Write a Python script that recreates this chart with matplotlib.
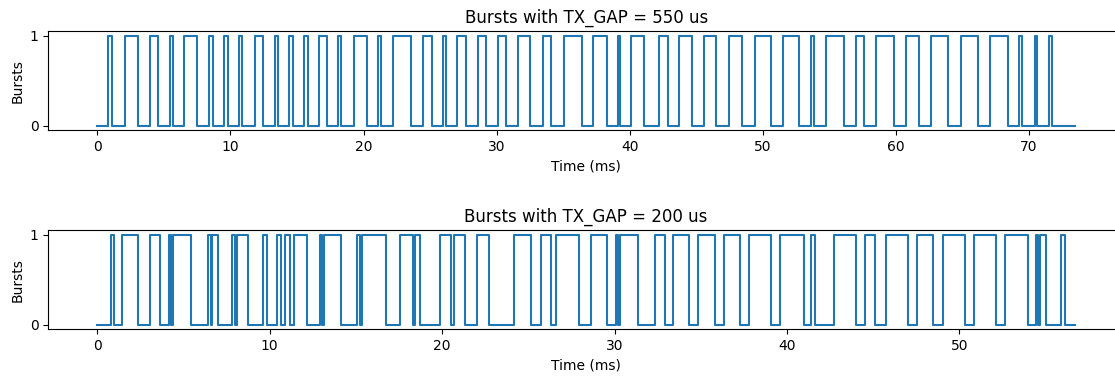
import numpy as np
import matplotlib
matplotlib.use("Agg")
import matplotlib.pyplot as plt

# Burst edges (ms)
gap550_rise = [0.83, 2.08, 3.95, 5.45, 6.50, 8.40, 9.53, 10.63, 11.83, 13.33, 14.40, 15.53,
               16.63, 18.08, 19.25, 21.08, 22.20, 24.45, 25.95, 27.03, 28.58, 30.08, 31.58,
               33.45, 35.08, 37.27, 39.14, 40.10, 42.22, 43.73, 45.58, 47.48, 49.41, 51.49,
               53.60, 54.75, 57.00, 58.50, 60.76, 62.61, 64.87, 67.07, 69.27, 70.45, 71.52]
gap550_fall = [1.10, 3.08, 4.58, 5.70, 7.50, 8.70, 9.83, 10.90, 12.45, 13.58, 14.70, 15.83,
               17.28, 18.33, 20.28, 21.33, 23.58, 25.13, 26.20, 27.70, 29.20, 30.70, 32.50,
               34.08, 36.40, 38.27, 39.27, 41.10, 42.85, 44.66, 46.48, 48.41, 50.59, 52.72,
               53.85, 56.10, 57.60, 59.85, 61.76, 63.94, 66.19, 68.44, 69.50, 70.62, 71.70]
gap550_end = 73.45

gap200_rise = [0.77, 1.41, 3.06, 4.16, 4.41, 6.45, 6.68, 7.84, 8.09, 9.64, 10.42, 10.86,
               11.42, 12.93, 13.15, 15.06, 15.35, 17.58, 18.45, 19.90, 20.68, 22.03, 24.16,
               25.71, 26.58, 28.65, 30.10, 30.33, 32.35, 33.41, 34.85, 36.35, 37.81, 39.59,
               41.39, 42.73, 44.53, 45.73, 47.52, 49.03, 50.85, 52.65, 54.45, 54.70, 55.88]
gap200_fall = [0.97, 2.38, 3.64, 4.28, 5.42, 6.58, 6.99, 8.00, 8.77, 9.84, 10.65, 11.15,
               12.16, 13.05, 14.13, 15.22, 16.77, 18.32, 18.74, 20.54, 21.30, 22.71, 25.13,
               26.29, 27.94, 29.57, 30.21, 31.36, 32.93, 34.34, 35.85, 37.29, 39.10, 40.98,
               41.62, 44.00, 45.11, 47.04, 48.49, 50.33, 52.13, 53.97, 54.58, 55.03, 56.13]
gap200_end = 56.71

titles = ["Bursts with TX_GAP = 550 us", "Bursts with TX_GAP = 200 us"]


def step_arrays(rises, falls, end):
    t = [0.0]
    y = [0]
    for r, f in zip(rises, falls):
        t += [r, f]
        y += [1, 0]
    t.append(end)
    y.append(0)
    return np.array(t), np.array(y)


fig = plt.figure(figsize=(11.15, 3.79), dpi=100)
W, H = 1115.0, 379.0
ax1 = fig.add_axes([48.4 / W, 1 - 130.3 / H, 1075.5 / W, 99.3 / H])
ax2 = fig.add_axes([48.4 / W, 1 - 329.3 / H, 1075.5 / W, 99.3 / H])

for ax, (r, f, e), title in zip(
        [ax1, ax2],
        [(gap550_rise, gap550_fall, gap550_end), (gap200_rise, gap200_fall, gap200_end)],
        titles):
    t, y = step_arrays(r, f, e)
    ax.step(t, y, where="post", color="#1f77b4", linewidth=1.5)
    ax.set_title(title, fontsize=12)
    ax.set_xlabel("Time (ms)")
    ax.set_ylabel("Bursts")
    ax.set_yticks([0, 1])
    # the reference image is cropped before the right edge of the axes
    ax.spines["right"].set_visible(False)

fig.savefig("out.png", dpi=100)
